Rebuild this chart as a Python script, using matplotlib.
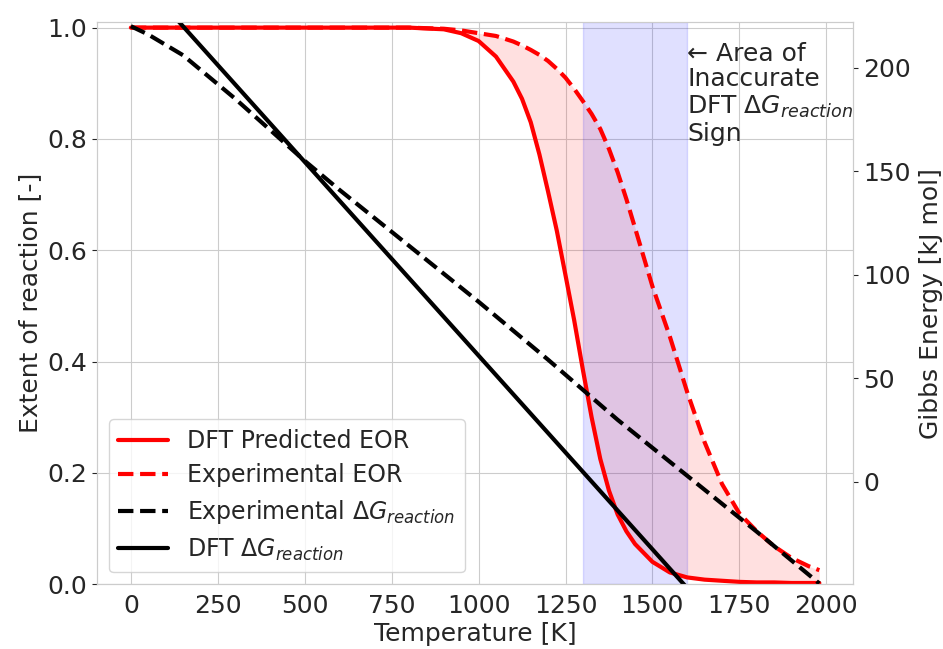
import matplotlib
matplotlib.use("Agg")
import matplotlib.pyplot as plt
import seaborn as sns

# temperature grid shared by both extent-of-reaction curves [K]
temp = [0, 800, 900, 950, 1000, 1050, 1100, 1125, 1150, 1175, 1200, 1225, 1250, 1275,
        1300, 1325, 1350, 1375, 1400, 1425, 1450, 1500, 1550, 1600, 1650, 1700, 1750,
        1800, 1850, 1900, 1950, 1980]
eor_dft = [1.0, 1.0, 0.997, 0.99, 0.976, 0.948, 0.903, 0.872, 0.83, 0.772, 0.705,
           0.635, 0.555, 0.474, 0.385, 0.30, 0.225, 0.168, 0.125, 0.095, 0.072, 0.04,
           0.021, 0.012, 0.008, 0.006, 0.004, 0.003, 0.003, 0.002, 0.002, 0.002]
eor_exp = [1.0, 1.0, 0.998, 0.995, 0.99, 0.985, 0.975, 0.968, 0.96, 0.951, 0.94,
           0.926, 0.91, 0.89, 0.868, 0.845, 0.818, 0.782, 0.74, 0.692, 0.64, 0.535,
           0.445, 0.345, 0.255, 0.18, 0.127, 0.095, 0.068, 0.047, 0.032, 0.025]

# Gibbs energy of reaction [kJ/mol]
temp_g_exp = [0, 50, 100, 150, 200, 250, 300, 400, 500, 600, 800, 1000, 1200,
              1400, 1600, 1800, 1980]
g_exp = [220, 216, 211, 206, 199, 192, 185, 170, 155, 141, 114, 87, 59, 30, 3, -24, -49]
temp_g_dft = [0, 2000]
g_dft = [248, -126]

sns.set_style("whitegrid")
plt.rcParams['font.family'] = ['DejaVu Sans']

fig, ax = plt.subplots(figsize=(9.43, 6.49), dpi=100)
fig.subplots_adjust(left=0.103, right=0.905, top=0.966, bottom=0.1)

l1, = ax.plot(temp, eor_dft, color='red', lw=3, label='DFT Predicted EOR')
l2, = ax.plot(temp, eor_exp, color='red', lw=3, ls='--', label='Experimental EOR')
ax.fill_between(temp, eor_dft, eor_exp, color='red', alpha=0.12, lw=0)
ax.axvspan(1300, 1600, color='blue', alpha=0.12)

ax.set_xlim(-97, 2078)
ax.set_ylim(0, 1.01)
ax.set_xticks(range(0, 2001, 250))
ax.set_yticks([0.0, 0.2, 0.4, 0.6, 0.8, 1.0])
ax.tick_params(labelsize=18)
ax.set_xlabel('Temperature [K]', fontsize=18, labelpad=3)
ax.set_ylabel('Extent of reaction [-]', fontsize=18)

ax2 = ax.twinx()
l3, = ax2.plot(temp_g_exp, g_exp, color='black', lw=3, ls='--',
               label=r'Experimental $\Delta G_{reaction}$')
l4, = ax2.plot(temp_g_dft, g_dft, color='black', lw=3, label=r'DFT $\Delta G_{reaction}$')
ax2.set_ylim(-49.3, 222)
ax2.set_yticks([0, 50, 100, 150, 200])
ax2.grid(False)
ax2.tick_params(labelsize=18)
ax2.set_ylabel('Gibbs Energy [kJ mol]', fontsize=18, labelpad=6)

ax.text(1600, 0.975, '\u2190 Area of\nInaccurate\nDFT $\\Delta G_{reaction}$\nSign',
        fontsize=18, va='top', ha='left', color='#262626', linespacing=1.1)

ax2.legend(handles=[l1, l2, l3, l4], loc='lower left', fontsize=17, frameon=True,
           labelspacing=0.45, handlelength=2.1)

plt.savefig('out.png', dpi=100)
